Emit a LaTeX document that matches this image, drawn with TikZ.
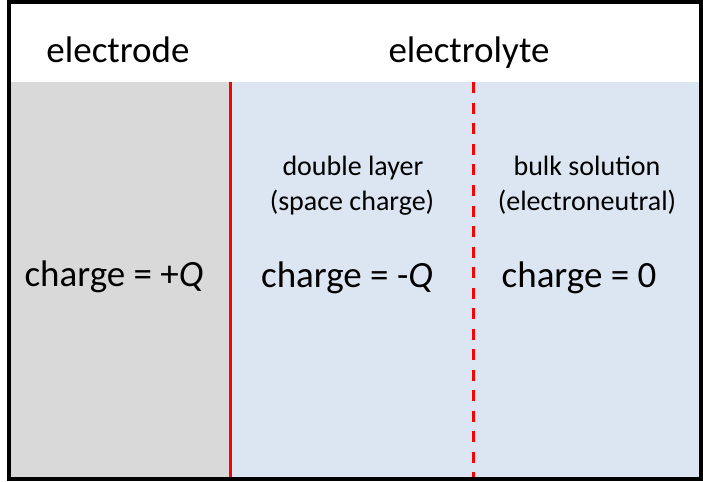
\documentclass[tikz,border=0pt]{standalone}
\usepackage{fontspec}
\setmainfont{Carlito}
\definecolor{electrodegray}{HTML}{D9D9D9}
\definecolor{electrolyteblue}{HTML}{DCE6F2}
\definecolor{boundaryred}{HTML}{FF0000}
\tikzset{
  bigtext/.style={inner sep=0pt, anchor=base, font=\fontsize{37bp}{44bp}\selectfont},
  smalltext/.style={inner sep=0pt, anchor=base, font=\fontsize{28bp}{34bp}\selectfont},
  interface/.style={draw=boundaryred, line width=3bp},
  layeredge/.style={draw=boundaryred, line width=3bp, dash pattern=on 11bp off 9.5bp},
}
\begin{document}
\begin{tikzpicture}[x=1bp, y=-1bp]
\useasboundingbox (0,0) rectangle (703,482);
\fill[white] (0,0) rectangle (703,482);
% regions
\fill[electrodegray] (9,82) rectangle (230,479);
\fill[electrolyteblue] (230,82) rectangle (701,479);
% boundaries
\coordinate (ifaceTop) at (230,82);
\coordinate (ifaceBot) at (230,477);
\coordinate (layerTop) at (473,82.5);
\coordinate (layerBot) at (473,477);
\draw[interface] (ifaceTop) -- (ifaceBot);
\draw[layeredge] (layerTop) -- (layerBot);
% outer frame
\draw[line width=4bp] (9.2,1.8) rectangle (700.8,479);
% headings
\node[bigtext] (electrode) at (118,63) {electrode};
\node[bigtext] (electrolyte) at (469,63) {electrolyte};
% labels
\node[bigtext] (chargeQ) at (114,286) {charge = +\textit{Q}};
\node[smalltext] (dl1) at (353,176) {double layer};
\node[smalltext] (dl2) at (352,211) {(space charge)};
\node[bigtext] (chargeMQ) at (347,287) {charge = -\textit{Q}};
\node[smalltext] (bs1) at (587,176) {bulk solution};
\node[smalltext] (bs2) at (587,211) {(electroneutral)};
\node[bigtext] (chargeZero) at (579,287) {charge = 0};
\end{tikzpicture}
\end{document}
